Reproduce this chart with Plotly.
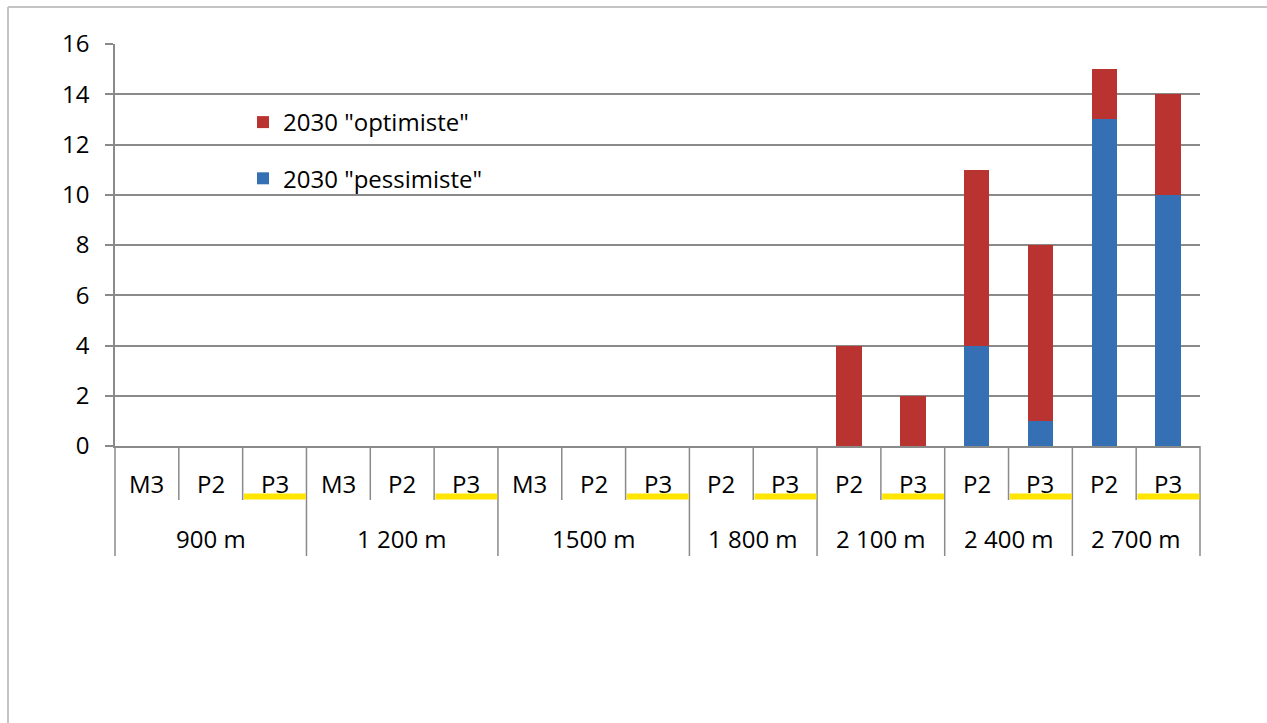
import plotly.graph_objects as go

# ---- data ----
groups = ["900 m", "1 200 m", "1500 m", "1 800 m", "2 100 m", "2 400 m", "2 700 m"]
subcats = [["M3", "P2", "P3"], ["M3", "P2", "P3"], ["M3", "P2", "P3"],
           ["P2", "P3"], ["P2", "P3"], ["P2", "P3"], ["P2", "P3"]]
pessimiste = [0, 0, 0, 0, 0, 0, 0, 0, 0, 0, 0, 0, 0, 4, 1, 13, 10]
optimiste = [0, 0, 0, 0, 0, 0, 0, 0, 0, 0, 0, 4, 2, 7, 7, 2, 4]
y_ticks = [0, 2, 4, 6, 8, 10, 12, 14, 16]

# ---- style ----
RED = "#B93431"
BLUE = "#3670B4"
GRID = "#8a8a8a"
FRAME = "#c4c4c4"
YELLOW = "#FFE500"
FONT = "Open Sans"
FS = 24
TXT = "#000000"

keys, sub_labels, group_start = [], [], []
for g, subs in zip(groups, subcats):
    group_start.append(len(keys))
    for s in subs:
        keys.append(f"{g}|{s}")
        sub_labels.append(s)
n = len(keys)

fig = go.Figure()
fig.add_trace(go.Bar(x=keys, y=pessimiste, name='2030 "pessimiste"',
                     marker=dict(color=BLUE, line=dict(width=0)),
                     legendgroup="p", legendrank=2, hoverinfo="y+name"))
fig.add_trace(go.Bar(x=keys, y=optimiste, name='2030 "optimiste"',
                     marker=dict(color=RED, line=dict(width=0)),
                     legendgroup="o", legendrank=1, hoverinfo="y+name"))

shapes = []
annotations = []
SUB_BOT = -54 / 402
GRP_BOT = -110 / 402
for k in range(n + 1):
    is_group = k in group_start or k == n
    shapes.append(dict(type="line", xref="x domain", yref="paper",
                       x0=k / n, x1=k / n, y0=0, y1=GRP_BOT if is_group else SUB_BOT,
                       line=dict(color=GRID, width=1.5), layer="above"))
for i, s in enumerate(sub_labels):
    annotations.append(dict(x=i, y=-37.5 / 402, xref="x", yref="paper", text=s,
                            showarrow=False, yanchor="middle",
                            font=dict(family=FONT, size=FS, color=TXT)))
    if s == "P3":
        shapes.append(dict(type="line", xref="x domain", yref="paper",
                           x0=(i + 0.02) / n, x1=(i + 0.99) / n,
                           y0=-50.5 / 402, y1=-50.5 / 402,
                           line=dict(color=YELLOW, width=6), layer="above"))
for gi, g in enumerate(groups):
    start = group_start[gi]
    end = start + len(subcats[gi]) - 1
    annotations.append(dict(x=(start + end) / 2, y=-92 / 402, xref="x", yref="paper",
                            text=g, showarrow=False, yanchor="middle",
                            font=dict(family=FONT, size=FS, color=TXT)))

# outer frame (chart area border)
shapes.append(dict(type="line", xref="paper", yref="paper",
                   x0=-107 / 1085, x1=-107 / 1085, y0=439 / 402, y1=-0.75,
                   line=dict(color=FRAME, width=2)))
shapes.append(dict(type="line", xref="paper", yref="paper",
                   x0=-107 / 1085, x1=1.1, y0=439 / 402, y1=439 / 402,
                   line=dict(color=FRAME, width=2)))

fig.update_layout(
    width=1267, height=723,
    margin=dict(l=115, r=67, t=44, b=277),
    paper_bgcolor="white", plot_bgcolor="white",
    barmode="stack", bargap=0.6,
    font=dict(family=FONT, size=FS, color=TXT),
    showlegend=True,
    legend=dict(x=128 / 1085, y=(446 - 100) / 402, xanchor="left", yanchor="top",
                traceorder="grouped", tracegroupgap=22,
                font=dict(family=FONT, size=FS, color=TXT),
                bgcolor="rgba(0,0,0,0)"),
    xaxis=dict(type="category", range=[-0.5, n - 0.5], showticklabels=False,
               ticks="", showgrid=False, showline=True, linecolor=GRID,
               linewidth=1.5, fixedrange=True),
    yaxis=dict(range=[0, 16], tickvals=y_ticks, showline=True, linecolor=GRID,
               linewidth=1.5, ticks="outside", ticklen=8, tickcolor=GRID,
               tickwidth=1.5, showgrid=True, gridcolor=GRID, gridwidth=1.5,
               zeroline=False, fixedrange=True, ticklabelstandoff=11,
               tickfont=dict(family=FONT, size=FS, color=TXT)),
    shapes=shapes, annotations=annotations,
)

fig.write_html("out.html")
